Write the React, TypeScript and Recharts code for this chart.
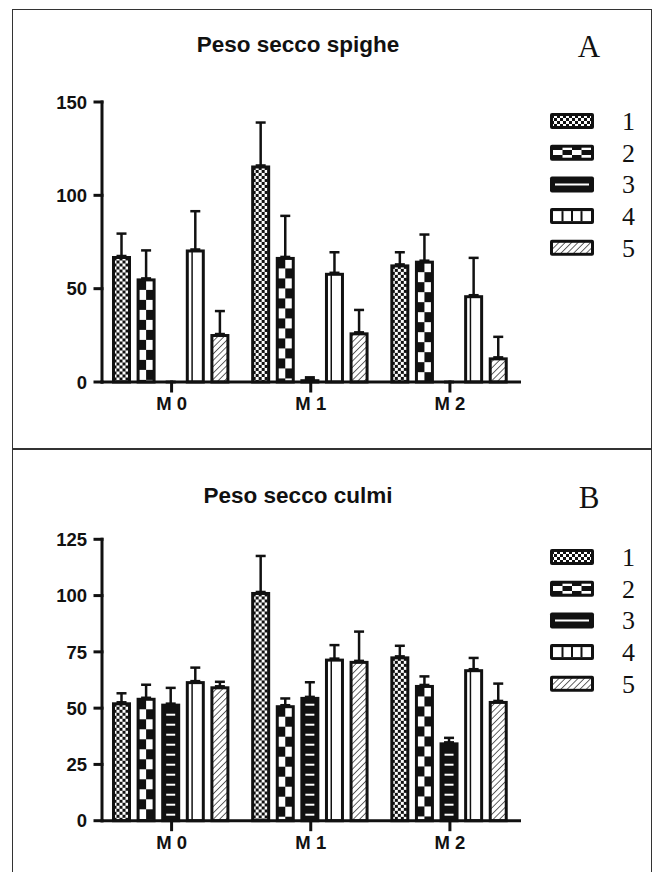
import React from "react";
import { BarChart, Bar, XAxis, YAxis, ErrorBar, Legend } from "recharts";

const categories = ["M 0", "M 1", "M 2"];
const seriesLabels = ["1", "2", "3", "4", "5"];

// A - Peso secco spighe
const spighe1 = [67.5, 116, 63];
const spighe2 = [55.5, 67, 65];
const spighe3 = [0, 1.5, 0];
const spighe4 = [71, 58.5, 46.5];
const spighe5 = [25.7, 26.6, 13.2];
const spighe1Err = [12, 23, 6.5];
const spighe2Err = [15, 22, 14];
const spighe3Err = [0, 1, 0];
const spighe4Err = [20.5, 11, 20];
const spighe5Err = [12.3, 12, 11];
const spigheTicks = [0, 50, 100, 150];

// B - Peso secco culmi
const culmi1 = [52.6, 101.6, 73];
const culmi2 = [54.6, 51.3, 60.3];
const culmi3 = [52, 55, 34.8];
const culmi4 = [62, 72, 67.3];
const culmi5 = [59.7, 71, 53.2];
const culmi1Err = [4, 16, 4.7];
const culmi2Err = [5.8, 3, 3.8];
const culmi3Err = [7, 6.5, 2];
const culmi4Err = [6, 6, 5];
const culmi5Err = [2, 13, 7.7];
const culmiTicks = [0, 25, 50, 75, 100, 125];

const INK = "#111";
const SANS = '"Liberation Sans", Arial, sans-serif';
const SERIF = '"Liberation Serif", "Times New Roman", serif';

const buildRows = (means: number[][], errs: number[][]) =>
  categories.map((name, i) => {
    const row: any = { name };
    means.forEach((m, k) => {
      row[`v${k}`] = m[i];
      row[`e${k}`] = [0, errs[k][i]];
    });
    return row;
  });

const spigheRows = buildRows(
  [spighe1, spighe2, spighe3, spighe4, spighe5],
  [spighe1Err, spighe2Err, spighe3Err, spighe4Err, spighe5Err]
);
const culmiRows = buildRows(
  [culmi1, culmi2, culmi3, culmi4, culmi5],
  [culmi1Err, culmi2Err, culmi3Err, culmi4Err, culmi5Err]
);

// bar fill patterns, one per series
const makeShape = (k: number, cid: string) => (props: any) => {
  const { x, y, width, height, index } = props;
  if (!height || height < 0.5) return <g />;
  const ix = x + 1.5;
  const iy = y + 1.5;
  const iw = Math.max(width - 3, 0.5);
  const ih = Math.max(height - 1.5, 0.5);
  const pid = `${cid}-b${k}-${index}`;
  let fill = "#fff";
  let defs: any = null;
  const extra: any[] = [];

  if (k === 0) {
    defs = (
      <pattern id={pid} patternUnits="userSpaceOnUse" x={ix} y={iy} width={6} height={6}>
        <rect width={6} height={6} fill="#fff" />
        <rect width={3} height={3} fill={INK} />
        <rect x={3} y={3} width={3} height={3} fill={INK} />
      </pattern>
    );
    fill = `url(#${pid})`;
  } else if (k === 1) {
    const cw = iw / 2;
    defs = (
      <pattern id={pid} patternUnits="userSpaceOnUse" x={ix} y={iy} width={iw} height={20}>
        <rect width={iw} height={20} fill="#fff" />
        <rect width={cw} height={10} fill={INK} />
        <rect x={cw} y={10} width={cw} height={10} fill={INK} />
      </pattern>
    );
    fill = `url(#${pid})`;
  } else if (k === 2) {
    fill = INK;
    for (let yy = y + height - 6; yy > iy + 4; yy -= 10) {
      extra.push(
        <line key={yy} x1={ix + 3.5} x2={ix + iw - 3.5} y1={yy} y2={yy} stroke="#fff" strokeWidth={2} />
      );
    }
  } else if (k === 3) {
    fill = "#fff";
    extra.push(
      <line key="v" x1={ix + iw * 0.3} x2={ix + iw * 0.3} y1={iy} y2={iy + ih} stroke={INK} strokeWidth={1.5} />
    );
  } else {
    defs = (
      <pattern id={pid} patternUnits="userSpaceOnUse" width={4.5} height={4.5} patternTransform="rotate(45)">
        <rect width={4.5} height={4.5} fill="#fff" />
        <line x1={0} y1={0} x2={0} y2={4.5} stroke={INK} strokeWidth={1.3} />
      </pattern>
    );
    fill = `url(#${pid})`;
  }

  return (
    <g>
      {defs && <defs>{defs}</defs>}
      <rect x={ix} y={iy} width={iw} height={ih} fill={fill} stroke={INK} strokeWidth={3} />
      {extra}
    </g>
  );
};

const LegendBox = ({ cid }: { cid: string }) => {
  const rows = seriesLabels.map((_, i) => 21 + i * 31.7);
  return (
    <svg width={110} height={170} style={{ display: "block" }}>
      <defs>
        <pattern id={`${cid}-l0`} patternUnits="userSpaceOnUse" width={6} height={6}>
          <rect width={6} height={6} fill="#fff" />
          <rect width={3} height={3} fill={INK} />
          <rect x={3} y={3} width={3} height={3} fill={INK} />
        </pattern>
        <pattern id={`${cid}-l1`} patternUnits="userSpaceOnUse" x={5} width={19} height={10}>
          <rect width={19} height={10} fill="#fff" />
          <rect x={9.5} width={9.5} height={5} fill={INK} />
          <rect y={5} width={9.5} height={5} fill={INK} />
        </pattern>
        <pattern id={`${cid}-l4`} patternUnits="userSpaceOnUse" width={4.5} height={4.5} patternTransform="rotate(45)">
          <rect width={4.5} height={4.5} fill="#fff" />
          <line x1={0} y1={0} x2={0} y2={4.5} stroke={INK} strokeWidth={1.3} />
        </pattern>
      </defs>
      {seriesLabels.map((label, i) => {
        const c = rows[i];
        let inner: any = null;
        if (i === 0) inner = <rect x={5} y={c - 5} width={38} height={10} fill={`url(#${cid}-l0)`} />;
        if (i === 1) inner = <rect x={5} y={c - 5} width={38} height={10} fill={`url(#${cid}-l1)`} />;
        if (i === 2) inner = <line x1={7} x2={41} y1={c} y2={c} stroke="#fff" strokeWidth={2} />;
        if (i === 3)
          inner = (
            <g>
              <rect x={5} y={c - 5} width={38} height={10} fill="#fff" />
              {[1, 2, 3].map((j) => (
                <line key={j} x1={5 + j * 9.5} x2={5 + j * 9.5} y1={c - 5} y2={c + 5} stroke={INK} strokeWidth={2} />
              ))}
            </g>
          );
        if (i === 4) inner = <rect x={5} y={c - 5} width={38} height={10} fill={`url(#${cid}-l4)`} />;
        return (
          <g key={label}>
            <rect x={2} y={c - 8} width={44} height={16} rx={2} fill={INK} />
            {inner}
            <text x={74} y={c + 9} fontFamily={SERIF} fontSize={26} fill={INK}>
              {label}
            </text>
          </g>
        );
      })}
    </svg>
  );
};

const YTick = (p: any) => (
  <text x={p.x} y={p.y} dy="0.36em" textAnchor="end" fill={INK} fontSize={18.5} fontWeight="bold" fontFamily={SANS}>
    {p.payload.value}
  </text>
);

const XTick = (p: any) => (
  <text x={p.x} y={p.y} dy="0.8em" textAnchor="middle" fill={INK} fontSize={18.5} fontWeight="bold" fontFamily={SANS}>
    {p.payload.value}
  </text>
);

type PanelProps = {
  cid: string;
  rows: any[];
  ticks: number[];
  width: number;
  height: number;
  top: number;
  bottom: number;
  legendTop: number;
};

const Panel = ({ cid, rows, ticks, width, height, top, bottom, legendTop }: PanelProps) => {
  const lineStyle = { stroke: INK, strokeWidth: 3, strokeLinecap: "square" as const };
  return (
    <BarChart
      width={width}
      height={height}
      data={rows}
      margin={{ top, bottom, left: 42, right: 136.5 }}
      barCategoryGap={10}
      barGap={5.6}
    >
      <XAxis
        dataKey="name"
        height={30}
        axisLine={lineStyle}
        tickLine={lineStyle}
        tickSize={9}
        tickMargin={4}
        tick={XTick}
      />
      <YAxis
        type="number"
        width={60}
        domain={[ticks[0], ticks[ticks.length - 1]]}
        ticks={ticks}
        interval={0}
        axisLine={lineStyle}
        tickLine={lineStyle}
        tickSize={7}
        tickMargin={8}
        tick={YTick}
      />
      <Legend
        layout="vertical"
        align="center"
        verticalAlign="middle"
        wrapperStyle={{ position: "absolute", left: 548, top: legendTop, width: 110, height: 170 }}
        content={() => <LegendBox cid={cid} />}
      />
      {seriesLabels.map((label, k) => (
        <Bar key={label} dataKey={`v${k}`} name={label} isAnimationActive={false} shape={makeShape(k, cid)}>
          <ErrorBar dataKey={`e${k}`} width={5} strokeWidth={2.5} stroke={INK} direction="y" isAnimationActive={false} />
        </Bar>
      ))}
    </BarChart>
  );
};

const titleStyle: React.CSSProperties = {
  position: "absolute",
  left: 98,
  width: 400,
  textAlign: "center",
  fontFamily: SANS,
  fontWeight: "bold",
  fontSize: 22.5,
  lineHeight: "22px",
  color: INK,
};

const letterStyle: React.CSSProperties = {
  position: "absolute",
  left: 569,
  width: 40,
  textAlign: "center",
  fontFamily: SERIF,
  fontSize: 31,
  lineHeight: "30px",
  color: INK,
};

export default function App() {
  return (
    <div style={{ position: "absolute", left: 0, top: 0, width: 656, height: 872, overflow: "hidden", background: "#fff" }}>
      <div
        style={{
          position: "absolute",
          left: 12,
          top: 8.5,
          width: 640,
          height: 900,
          border: "1.5px solid #333",
          boxSizing: "border-box",
        }}
      />
      <div style={{ position: "absolute", left: 12, top: 448, width: 640, height: 1.5, background: "#333" }} />

      <div style={{ position: "absolute", left: 0, top: 0 }}>
        <Panel cid="a" rows={spigheRows} ticks={spigheTicks} width={656} height={440} top={102} bottom={28} legendTop={100} />
      </div>
      <div style={{ position: "absolute", left: 0, top: 440 }}>
        <Panel cid="b" rows={culmiRows} ticks={culmiTicks} width={656} height={432} top={99.3} bottom={21.3} legendTop={96} />
      </div>

      <div style={{ ...titleStyle, top: 34 }}>Peso secco spighe</div>
      <div style={{ ...letterStyle, top: 32 }}>A</div>
      <div style={{ ...titleStyle, top: 485 }}>Peso secco culmi</div>
      <div style={{ ...letterStyle, top: 483 }}>B</div>
    </div>
  );
}
